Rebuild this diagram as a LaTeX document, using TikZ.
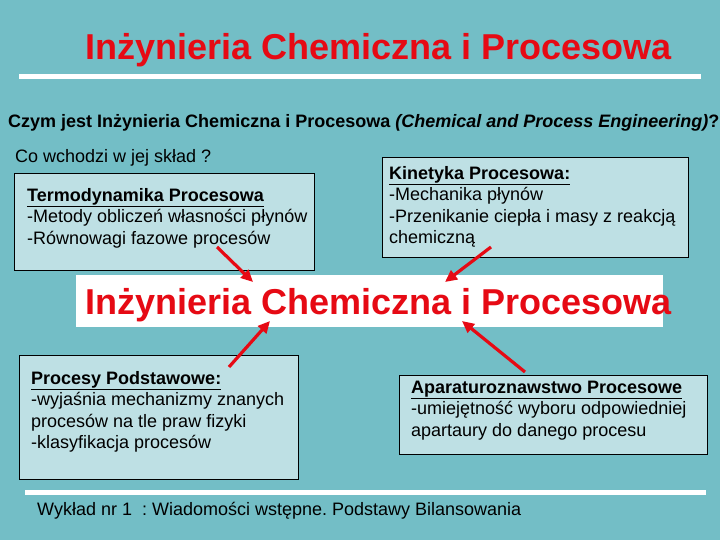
\documentclass[tikz,border=0pt]{standalone}
\usepackage{fontspec}
\setmainfont{Liberation Sans}
\frenchspacing
\usetikzlibrary{arrows.meta,positioning}
\definecolor{slidebg}{RGB}{115,190,198}
\definecolor{boxbg}{RGB}{190,224,228}
\definecolor{titlered}{RGB}{230,10,20}

\begin{document}
\begin{tikzpicture}[x=1pt,y=-1pt,
          box/.style={draw=black,fill=boxbg,line width=0.8pt,anchor=north west,inner sep=0pt},
          txt/.style={anchor=base west,align=left,inner sep=0pt,font=\fontsize{18}{21.4}\selectfont},
          boxtxt/.style={txt,anchor=north west},
          ttl/.style={anchor=base west,inner sep=0pt,text=titlered,font=\fontsize{36}{40}\selectfont\bfseries},
          arr/.style={draw=titlered,line width=3.2pt,-{Triangle[length=12pt,width=11pt]}}]
        \fill[slidebg] (0,0) rectangle (720,540);
        \useasboundingbox (0,0) rectangle (720,540);
        % title and rules
        \node[ttl] (title) at (85,60) {Inżynieria Chemiczna i Procesowa};
        \fill[white] (19,74.5) rectangle (701,79.5);
        \node[txt,font=\fontsize{18}{21}\selectfont\bfseries] (question) at (8,128)
          {Czym jest Inżynieria Chemiczna i Procesowa \textit{(Chemical and Process Engineering)}?};
        \node[txt] (sklad) at (15,163) {Co wchodzi w jej skład ?};
        % boxes (first text line: 15pt strut above its baseline)
        \node[box,minimum width=300pt,minimum height=97pt] (termo) at (14,173) {};
        \node[boxtxt] (termotxt) at (27,186) {\rule{0pt}{15pt}\underline{\textbf{Termodynamika Procesowa}}\\-Metody obliczeń własności płynów\\-Równowagi fazowe procesów};
        \node[box,minimum width=306pt,minimum height=100pt] (kinet) at (382,157) {};
        \node[boxtxt] (kinettxt) at (389,164) {\rule{0pt}{15pt}\underline{\textbf{Kinetyka Procesowa:}}\\-Mechanika płynów\\-Przenikanie ciepła i masy z reakcją\\chemiczną};
        \node[box,draw=none,fill=white,minimum width=587pt,minimum height=52pt] (core) at (76,275) {};
        \node[ttl] (coretxt) at (85,314) {Inżynieria Chemiczna i Procesowa};
        \node[box,minimum width=279pt,minimum height=124pt] (podst) at (19,355) {};
        \node[boxtxt] (podsttxt) at (31,369) {\rule{0pt}{15pt}\underline{\textbf{Procesy Podstawowe:}}\\-wyjaśnia mechanizmy znanych\\procesów na tle praw fizyki\\-klasyfikacja procesów};
        \node[box,minimum width=308pt,minimum height=79pt] (apar) at (399,375) {};
        \node[boxtxt] (apartxt) at (411,378) {\rule{0pt}{15pt}\underline{\textbf{Aparaturoznawstwo Procesowe}}\\-umiejętność wyboru odpowiedniej\\apartaury do danego procesu};
        % footer
        \fill[white] (25,490) rectangle (706,494.5);
        \node[txt] (footer) at (37,515) {Wykład nr 1\ \ : Wiadomości wstępne. Podstawy Bilansowania};
        % arrows
        \coordinate (a1) at (217,247); \coordinate (b1) at (253,282);
        \coordinate (a2) at (491,247); \coordinate (b2) at (445,282);
        \coordinate (a3) at (229,367); \coordinate (b3) at (270,321);
        \coordinate (a4) at (525,372); \coordinate (b4) at (462,321);
        \foreach \i in {1,...,4}
          \draw[arr] (a\i) -- (b\i);
      \end{tikzpicture}
\end{document}
